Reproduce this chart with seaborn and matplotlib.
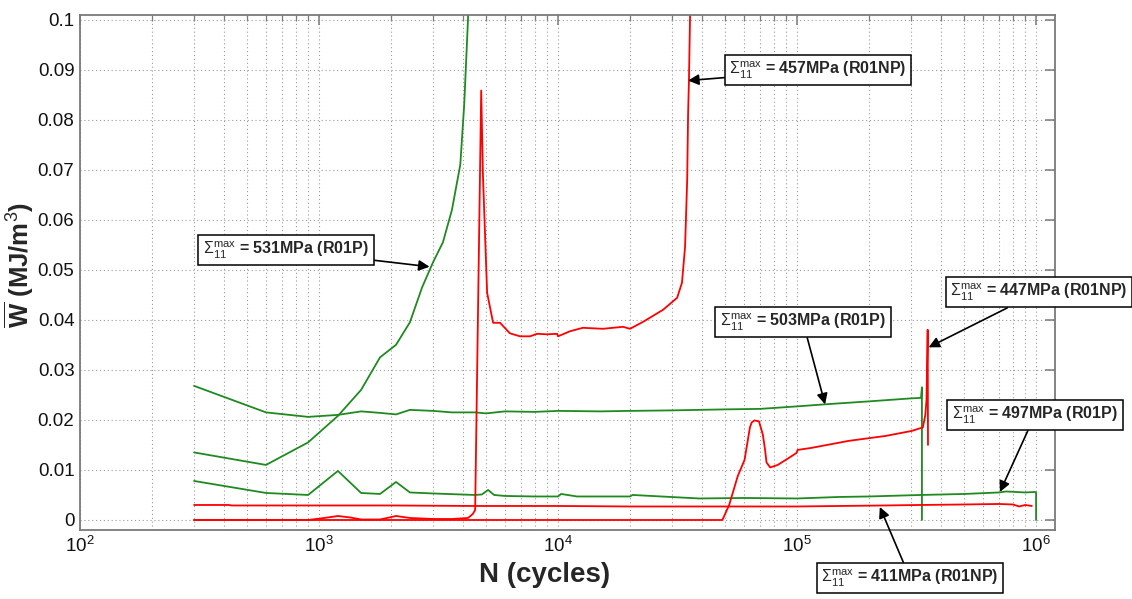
import numpy as np
import pandas as pd
import matplotlib
matplotlib.use("Agg")
import matplotlib.pyplot as plt
import seaborn as sns
from matplotlib.ticker import FixedLocator, FixedFormatter, LogLocator, NullFormatter

# --- data: mean dissipated energy per cycle vs. number of cycles ---
n_531 = [300, 600, 900, 1200, 1500, 1800, 2100, 2400, 2700, 3000, 3300, 3600, 3900,
         4050, 4200, 4350]
w_531 = [0.0135, 0.0110, 0.0155, 0.0208, 0.0260, 0.0325, 0.0350, 0.0395, 0.0465,
         0.0515, 0.0555, 0.0620, 0.0710, 0.0830, 0.1000, 0.1250]

n_503 = [300, 600, 900, 1200, 1500, 1800, 2100, 2400, 3000, 3600, 4500, 5000, 6000,
         8000, 10000, 15000, 20000, 30000, 50000, 70000, 100000, 130000, 200000,
         300000, 330000, 333000, 333000]
w_503 = [0.0268, 0.0215, 0.0206, 0.0210, 0.0217, 0.0214, 0.0211, 0.0220, 0.0218,
         0.0215, 0.0215, 0.0213, 0.0217, 0.0216, 0.0218, 0.0217, 0.0218, 0.0219,
         0.0221, 0.0222, 0.0227, 0.0231, 0.0237, 0.0243, 0.0244, 0.0265, 0.0]

n_497 = [300, 600, 900, 1200, 1500, 1800, 2100, 2400, 3000, 4500, 4800, 5100, 5400,
         6000, 8000, 10000, 10300, 12000, 20000, 20500, 39000, 60000, 100000, 150000,
         200000, 330000, 500000, 700000, 750000, 900000, 990000, 1000000, 1000000]
w_497 = [0.0078, 0.0054, 0.0050, 0.0098, 0.0054, 0.0052, 0.0076, 0.0055, 0.0053,
         0.0050, 0.0051, 0.0060, 0.0050, 0.0048, 0.0047, 0.0047, 0.0052, 0.0047,
         0.0047, 0.0050, 0.0043, 0.0044, 0.0043, 0.0046, 0.0047, 0.0050, 0.0052,
         0.0055, 0.0057, 0.0055, 0.0056, 0.0055, 0.0]

n_457 = [300, 600, 900, 1050, 1200, 1350, 1500, 1800, 2100, 2400, 3000, 3600, 4200,
         4400, 4500, 4770, 4850, 5050, 5350, 5720, 6290, 6930, 7640, 8170, 9000,
         9910, 10000, 11200, 12700, 15400, 18700, 20000, 22700, 27500, 31500, 33000,
         34000, 34700, 35000, 35300, 35800]
w_457 = [0.0, 0.0, 0.0, 0.0004, 0.0008, 0.0005, 0.0001, 0.0001, 0.0008, 0.0004,
         0.0002, 0.0002, 0.0004, 0.0012, 0.0020, 0.0858, 0.0690, 0.0454, 0.0394,
         0.0394, 0.0373, 0.0367, 0.0367, 0.0372, 0.0371, 0.0372, 0.0367, 0.0377,
         0.0384, 0.0382, 0.0386, 0.0382, 0.0396, 0.0420, 0.0444, 0.0474, 0.0546,
         0.0680, 0.0810, 0.0880, 0.1050]

n_447 = [300, 48700, 52000, 56500, 60300, 63500, 64600, 66400, 69300, 71900, 73500,
         74500, 77200, 83000, 92400, 99500, 100500, 114600, 164000, 235000, 302000,
         336000, 344000, 348000, 352000, 353000]
w_447 = [0.0, 0.0, 0.0030, 0.0088, 0.0120, 0.0185, 0.0195, 0.0199, 0.0197, 0.0171,
         0.0140, 0.0115, 0.0105, 0.0110, 0.0124, 0.0134, 0.0140, 0.0144, 0.0158,
         0.0168, 0.0178, 0.0185, 0.0210, 0.0240, 0.0380, 0.0150]

n_411 = [300, 420, 430, 2000, 4500, 10000, 20000, 39000, 60000, 100000, 150000,
         230000, 330000, 500000, 700000, 800000, 850000, 900000, 960000]
w_411 = [0.0030, 0.0030, 0.0029, 0.0029, 0.0028, 0.0028, 0.0027, 0.0027, 0.0027,
         0.0027, 0.0028, 0.0029, 0.0030, 0.0031, 0.0032, 0.0031, 0.0027, 0.0030,
         0.0028]

series_names = ["531", "503", "497", "457", "447", "411"]
series_n = [n_531, n_503, n_497, n_457, n_447, n_411]
series_w = [w_531, w_503, w_497, w_457, w_447, w_411]
series_colors = {"531": "#1f8a1f", "503": "#1f8a1f", "497": "#1f8a1f",
                 "457": "#ff0000", "447": "#ff0000", "411": "#ff0000"}

# annotation labels: (stress, specimen, target N, target W, box centre in figure px from top-left)
labels = [
    ("531", "R01P", 2900, 0.0506, (286, 250)),
    ("457", "R01NP", 35000, 0.0878, (818, 70)),
    ("503", "R01P", 131000, 0.0231, (803, 322)),
    ("447", "R01NP", 355000, 0.0345, (1039, 292)),
    ("497", "R01P", 706000, 0.0056, (1035, 415)),
    ("411", "R01NP", 222000, 0.0026, (910, 578)),
]

y_ticks = [0, 0.01, 0.02, 0.03, 0.04, 0.05, 0.06, 0.07, 0.08, 0.09, 0.1]
y_tick_labels = ["0", "0.01", "0.02", "0.03", "0.04", "0.05", "0.06", "0.07",
                 "0.08", "0.09", "0.1"]
x_ticks = [1e2, 1e3, 1e4, 1e5, 1e6]

df = pd.concat(
    [pd.DataFrame({"N": n, "W": w, "series": s})
     for s, n, w in zip(series_names, series_n, series_w)],
    ignore_index=True,
)

sns.set_theme(style="white")
plt.rcParams["font.family"] = ["Liberation Sans", "DejaVu Sans"]
plt.rcParams["mathtext.fontset"] = "custom"
plt.rcParams["mathtext.rm"] = "Liberation Sans"
plt.rcParams["mathtext.it"] = "Liberation Sans:italic"
plt.rcParams["mathtext.bf"] = "Liberation Sans:bold"

W_PX, H_PX = 1132, 599
fig = plt.figure(figsize=(W_PX / 100, H_PX / 100), dpi=100)
fig.patch.set_facecolor("white")
ax = fig.add_axes([80 / W_PX, 1 - 530 / H_PX, 975 / W_PX, 515 / H_PX])

sns.lineplot(data=df, x="N", y="W", hue="series", palette=series_colors,
             estimator=None, sort=False, legend=False, lw=1.3, ax=ax)

ax.set_xscale("log")
ax.set_xlim(100, 1.2e6)
ax.set_ylim(-0.002, 0.1009)

ax.xaxis.set_major_locator(FixedLocator(x_ticks))
ax.xaxis.set_minor_locator(LogLocator(base=10, subs=np.arange(2, 10), numticks=20))
ax.xaxis.set_minor_formatter(NullFormatter())
ax.yaxis.set_major_locator(FixedLocator(y_ticks))
ax.yaxis.set_major_formatter(FixedFormatter(y_tick_labels))

ax.grid(True, which="major", ls=(0, (1, 2.5)), color="#9a9a9a", lw=0.8)
ax.grid(True, which="minor", axis="x", ls=(0, (1, 2.5)), color="#9a9a9a", lw=0.8)

for sp in ax.spines.values():
    sp.set_color("#7a7a7a")
    sp.set_linewidth(1.3)
ax.tick_params(which="both", direction="in", top=True, right=True, color="#7a7a7a",
               labelsize=13.5, labelcolor="#111111", pad=4)
ax.tick_params(which="major", length=7, width=1.1)
ax.tick_params(which="minor", length=4, width=0.9)

ax.set_xlabel("N (cycles)", fontsize=20, fontweight="bold")
ax.xaxis.set_label_coords((545 - 80) / 975, -(562 - 530) / 515)
ax.set_ylabel(r"$\overline{\mathbf{W}}$ (MJ/m$^{3}$)", fontsize=18.5, fontweight="bold")
ax.yaxis.set_label_coords(-(80 - 36) / 975, (530 - 265) / 515)

for stress, spec, tn, tw, (bx, by) in labels:
    txt = r"$\Sigma_{11}^{\mathrm{max}}$" + f" = {stress}MPa ({spec})"
    ax.annotate(
        txt, xy=(tn, tw), xycoords="data",
        xytext=(bx / W_PX, 1 - by / H_PX), textcoords="figure fraction",
        ha="center", va="center", fontsize=11.5, fontweight="bold",
        bbox=dict(boxstyle="square,pad=0.3", fc="white", ec="black", lw=1.1),
        arrowprops=dict(arrowstyle="-|>", color="black", lw=1.2, mutation_scale=16,
                        shrinkA=0, shrinkB=0),
        annotation_clip=False, zorder=5,
    )

fig.savefig("out.png", dpi=100, facecolor="white")
